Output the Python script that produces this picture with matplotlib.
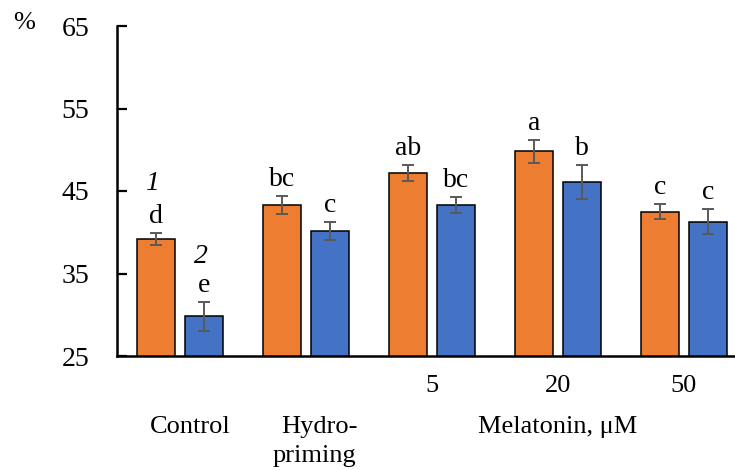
import numpy as np
import matplotlib
matplotlib.use('Agg')
import matplotlib.pyplot as plt
import matplotlib.transforms as mtransforms

# data
groups = ['Control', 'Hydropriming', 'Mel 5', 'Mel 20', 'Mel 50']
series1 = [39.2, 43.3, 47.2, 49.8, 42.5]
series1Err = [0.7, 1.1, 1.0, 1.4, 0.9]
series1Letters = ['d', 'bc', 'ab', 'a', 'c']
series2 = [29.8, 40.2, 43.3, 46.1, 41.3]
series2Err = [1.8, 1.1, 1.0, 2.1, 1.5]
series2Letters = ['e', 'c', 'bc', 'b', 'c']
doseLabels = ['', '', '5', '20', '50']
yTicks = [25, 35, 45, 55, 65]

# style
orange = '#ED7D31'
blue = '#4472C4'
errColor = '#595959'
labelSize = 19
bigSize = 20
barWidth = 0.30
offset = 0.19
W, H = 735, 470

plt.rcParams['font.family'] = ['Liberation Serif', 'DejaVu Serif']

fig = plt.figure(figsize=(W / 100, H / 100), dpi=100)
axLeft, axRight, axTop, axBottom = 117, 735, 26, 356
ax = fig.add_axes([axLeft / W, 1 - axBottom / H, (axRight - axLeft) / W, (axBottom - axTop) / H])

x = np.arange(len(groups))
ax.bar(x - offset, series1, width=barWidth, color=orange, edgecolor='black', linewidth=1.1,
       yerr=series1Err, error_kw=dict(ecolor=errColor, elinewidth=1.4, capsize=4, capthick=1.4), zorder=2)
ax.bar(x + offset, series2, width=barWidth, color=blue, edgecolor='black', linewidth=1.1,
       yerr=series2Err, error_kw=dict(ecolor=errColor, elinewidth=1.4, capsize=4, capthick=1.4), zorder=2)

for i in range(len(groups)):
    ax.annotate(series1Letters[i], (x[i] - offset, series1[i] + series1Err[i]), xytext=(0, 7),
                textcoords='offset points', ha='center', va='baseline', fontsize=bigSize)
    ax.annotate(series2Letters[i], (x[i] + offset, series2[i] + series2Err[i]), xytext=(0, 7),
                textcoords='offset points', ha='center', va='baseline', fontsize=bigSize)

# series numbers above control
ax.annotate('1', (x[0] - offset, series1[0] + series1Err[0]), xytext=(-3, 31),
            textcoords='offset points', ha='center', va='baseline', fontsize=bigSize, style='italic')
ax.annotate('2', (x[0] + offset, series2[0] + series2Err[0]), xytext=(-2, 28),
            textcoords='offset points', ha='center', va='baseline', fontsize=bigSize, style='italic')

ax.set_ylim(25, 65)
ax.set_xlim(-0.5, -0.5 + (axRight - axLeft) / 126)
ax.set_yticks(yTicks)
ax.set_xticks([])
ax.tick_params(axis='y', direction='in', length=7, width=1.6, pad=20, labelsize=bigSize)
ax.spines['top'].set_visible(False)
ax.spines['right'].set_visible(False)
ax.spines['left'].set_linewidth(1.8)
ax.spines['bottom'].set_linewidth(1.8)

# x labels: doses under their groups, category names below
trans = mtransforms.blended_transform_factory(ax.transData, fig.transFigure)
for i, lab in enumerate(doseLabels):
    if lab:
        ax.text(x[i], 1 - 386 / H, lab, transform=trans, ha='center', va='center', fontsize=labelSize)
ax.text(x[3], 1 - 427 / H, 'Melatonin, μM', transform=trans, ha='center', va='center', fontsize=labelSize)

fig.text(24 / W, 1 - 23 / H, '%', ha='center', va='center', fontsize=19)
fig.text(190 / W, 1 - 427 / H, 'Control', ha='center', va='center', fontsize=labelSize)
fig.text(319 / W, 1 - 427 / H, 'Hydro-', ha='center', va='center', fontsize=labelSize)
fig.text(314 / W, 1 - 456 / H, 'priming', ha='center', va='center', fontsize=labelSize)

fig.savefig('out.png', dpi=100)
